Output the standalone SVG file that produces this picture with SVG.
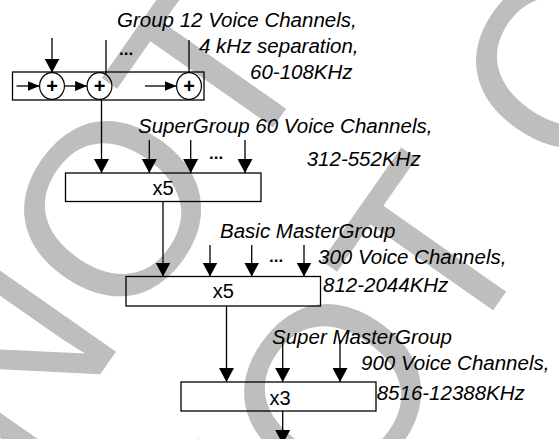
<svg xmlns="http://www.w3.org/2000/svg" width="559" height="439" viewBox="0 0 559 439">
  <style>
    .wm { font-family: "Liberation Sans", Arial, sans-serif; font-size: 245px; fill: #bebebe; }
    .lbl { font-family: "Liberation Sans", Arial, sans-serif; font-size: 20.5px; font-style: italic; fill: #000; }
    .mul { font-family: "Liberation Sans", Arial, sans-serif; font-size: 20px; fill: #000; text-anchor: middle; }
    .plus { font-family: "Liberation Sans", Arial, sans-serif; font-size: 20px; font-weight: bold; fill: #000; text-anchor: middle; }
    .dots { font-family: "Liberation Sans", Arial, sans-serif; font-size: 17px; font-weight: bold; fill: #000; }
    .box { fill: none; stroke: #000; stroke-width: 1.3; }
    .sum { fill: none; stroke: #000; stroke-width: 1.2; }
    .wire { fill: none; stroke: #000; stroke-width: 1.3; }
    .arr { marker-end: url(#ah); }
    .arrs { marker-end: url(#ahs); }
  </style>
  <defs>
    <marker id="ah" markerUnits="userSpaceOnUse" viewBox="0 0 14 15" refX="14" refY="7.5" markerWidth="14" markerHeight="15" orient="auto">
      <path d="M0,0 L14,7.5 L0,15 Z" fill="#000"/>
    </marker>
    <marker id="ahs" markerUnits="userSpaceOnUse" viewBox="0 0 12 10" refX="12" refY="5" markerWidth="12" markerHeight="10" orient="auto">
      <path d="M0,0 L12,5 L0,10 Z" fill="#000"/>
    </marker>
  </defs>
  <rect width="559" height="439" fill="#fff"/>

  <g id="watermark">
    <text class="wm" transform="translate(26,480.3) rotate(-55)">NOT COPY</text>
    <text class="wm" transform="translate(246,663.3) rotate(-55)">NOT COPY</text>
  </g>

  <g id="connectors">
    <line class="wire arr" x1="52" y1="38" x2="52" y2="72.6"/>
    <line class="wire" x1="106" y1="40" x2="106" y2="74.3"/>
    <line class="wire" x1="189" y1="40" x2="189" y2="72.6"/>
    <line class="wire arrs" x1="16.5" y1="86" x2="39.6" y2="86"/>
    <line class="wire arrs" x1="64.4" y1="86" x2="87.1" y2="86"/>
    <line class="wire arrs" x1="145" y1="86" x2="176.6" y2="86"/>
    <line class="wire arr" x1="101.5" y1="100" x2="101.5" y2="173"/>
    <line class="wire arr" x1="149.3" y1="140" x2="149.3" y2="173"/>
    <line class="wire arr" x1="190.7" y1="140" x2="190.7" y2="173"/>
    <line class="wire arr" x1="245" y1="140" x2="245" y2="173"/>
    <line class="wire arr" x1="163" y1="201.5" x2="163" y2="276.5"/>
    <line class="wire arr" x1="210" y1="245" x2="210" y2="276.5"/>
    <line class="wire arr" x1="251.7" y1="245" x2="251.7" y2="276.5"/>
    <line class="wire arr" x1="304" y1="245" x2="304" y2="276.5"/>
    <line class="wire arr" x1="226.5" y1="306" x2="226.5" y2="382"/>
    <line class="wire arr" x1="282.7" y1="340" x2="282.7" y2="382"/>
    <line class="wire arr" x1="340" y1="340" x2="340" y2="382"/>
    <line class="wire arr" x1="282.7" y1="411" x2="282.7" y2="444"/>
  </g>

  <g id="group-combiner">
    <rect class="box" x="12.5" y="72" width="191.5" height="28"/>
    <ellipse class="sum" cx="52" cy="86" rx="12.4" ry="13.4"/>
    <ellipse class="sum" cx="99.5" cy="86" rx="12.4" ry="13.4"/>
    <ellipse class="sum" cx="189" cy="86" rx="12.4" ry="13.4"/>
    <text class="plus" x="52" y="93">+</text>
    <text class="plus" x="99.5" y="93">+</text>
    <text class="plus" x="189" y="93">+</text>
    <text class="dots" x="119" y="54.5">...</text>
  </g>
  <g id="group-label">
    <text class="lbl" x="117" y="27">Group 12 Voice Channels,</text>
    <text class="lbl" x="199" y="53">4 kHz separation,</text>
    <text class="lbl" x="250" y="79">60-108KHz</text>
  </g>

  <g id="supergroup">
    <rect class="box" x="65.5" y="173" width="195.5" height="28.5"/>
    <text class="mul" x="163" y="195">x5</text>
    <text class="dots" x="209" y="158.5">...</text>
  </g>
  <g id="supergroup-label">
    <text class="lbl" x="138" y="133">SuperGroup 60 Voice Channels,</text>
    <text class="lbl" x="306.7" y="166">312-552KHz</text>
  </g>

  <g id="mastergroup">
    <rect class="box" x="126" y="276.5" width="194.5" height="29.5"/>
    <text class="mul" x="223.3" y="298">x5</text>
    <text class="dots" x="269" y="262">...</text>
  </g>
  <g id="mastergroup-label">
    <text class="lbl" x="220" y="238">Basic MasterGroup</text>
    <text class="lbl" x="318" y="263.5">300 Voice Channels,</text>
    <text class="lbl" x="323" y="292">812-2044KHz</text>
  </g>

  <g id="supermastergroup">
    <rect class="box" x="181" y="382" width="195" height="29"/>
    <text class="mul" x="280" y="405">x3</text>
  </g>
  <g id="supermastergroup-label">
    <text class="lbl" x="272" y="344">Super MasterGroup</text>
    <text class="lbl" x="361" y="370">900 Voice Channels,</text>
    <text class="lbl" x="376.7" y="400">8516-12388KHz</text>
  </g>
</svg>
